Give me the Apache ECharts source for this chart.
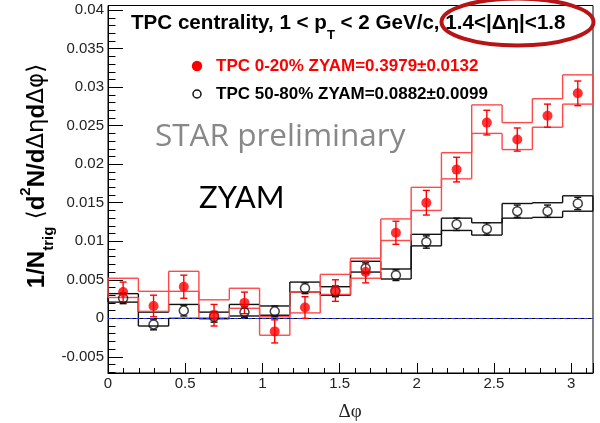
<!DOCTYPE html>
<html>
<head>
<meta charset="utf-8">
<script src="https://cdn.jsdelivr.net/npm/echarts@6/dist/echarts.min.js"></script>
<style>
  html, body { margin: 0; padding: 0; background: #fff; }
  #chart { width: 600px; height: 423px; }
</style>
</head>
<body>
<div id="chart"></div>
<script>
// Δφ bin centres (16 bins over 0..π)
const dphi = [0.098, 0.295, 0.491, 0.687, 0.884, 1.080, 1.276, 1.473,
              1.669, 1.865, 2.062, 2.258, 2.454, 2.651, 2.847, 3.043];

// TPC 0-20% central
const central      = [0.0034, 0.0016, 0.0041, 0.0004, 0.0020, -0.0017, 0.0014, 0.0036,
                      0.0060, 0.0111, 0.0150, 0.0193, 0.0254, 0.0232, 0.0263, 0.0292];
const centralErr   = [0.0013, 0.0014, 0.0015, 0.0014, 0.0014, 0.0015, 0.0014, 0.0014,
                      0.0014, 0.0015, 0.0016, 0.0016, 0.0016, 0.0015, 0.0015, 0.0016];
const centralSysLo = [0.0027, 0.0009, 0.0035, -0.0001, 0.0013, -0.0022, 0.0007, 0.0031,
                      0.0052, 0.0101, 0.0140, 0.0181, 0.0240, 0.0219, 0.0248, 0.0278];
const centralSysHi = [0.0052, 0.0035, 0.0061, 0.0024, 0.0039, 0.0002, 0.0034, 0.0057,
                      0.0078, 0.0129, 0.0170, 0.0215, 0.0277, 0.0254, 0.0285, 0.0316];

// TPC 50-80% peripheral
const periph       = [0.0026, -0.0008, 0.0010, 0.0002, 0.0008, 0.0009, 0.0039, 0.0035,
                      0.0065, 0.0056, 0.0099, 0.0122, 0.0116, 0.0139, 0.0139, 0.0149];
const periphErr    = [0.0007, 0.0007, 0.0007, 0.0007, 0.0007, 0.0007, 0.0007, 0.0007,
                      0.0007, 0.0007, 0.0008, 0.0008, 0.0008, 0.0008, 0.0008, 0.0008];
const periphSysLo  = [0.0021, -0.0010, 0.0000, 0.0000, 0.0003, 0.0004, 0.0034, 0.0030,
                      0.0060, 0.0051, 0.0094, 0.0114, 0.0108, 0.0130, 0.0131, 0.0139];
const periphSysHi  = [0.0032, 0.0008, 0.0018, 0.0008, 0.0018, 0.0016, 0.0047, 0.0041,
                      0.0074, 0.0064, 0.0109, 0.0130, 0.0124, 0.0149, 0.0150, 0.0159];

const legendCentral = 'TPC 0-20% ZYAM=0.3979±0.0132';
const legendPeriph  = 'TPC 50-80% ZYAM=0.0882±0.0099';

const binWidth = Math.PI / 16;
const RED = '#ff0000';
const RED_BOX = '#ff4848';
const BLACK = '#111111';

// Systematic band drawn as two step outlines (upper and lower edge),
// joined to the neighbouring bin by vertical risers.
function bandRenderer(color, loArr, hiArr) {
  return function (params, api) {
    const i = params.dataIndex;
    const x = api.value(0), lo = api.value(1), hi = api.value(2);
    const xl = x - binWidth / 2, xr = x + binWidth / 2;
    const st = { stroke: color, lineWidth: 1.4 };
    const seg = (p, q) => ({ type: 'line', shape: { x1: p[0], y1: p[1], x2: q[0], y2: q[1] }, style: st });
    const kids = [
      seg(api.coord([xl, hi]), api.coord([xr, hi])),
      seg(api.coord([xl, lo]), api.coord([xr, lo]))
    ];
    if (i === 0) {
      kids.push(seg(api.coord([xl, lo]), api.coord([xl, hi])));
    } else {
      kids.push(seg(api.coord([xl, hiArr[i - 1]]), api.coord([xl, hi])));
      kids.push(seg(api.coord([xl, loArr[i - 1]]), api.coord([xl, lo])));
    }
    if (i === loArr.length - 1) {
      kids.push(seg(api.coord([xr, lo]), api.coord([xr, hi])));
    }
    return { type: 'group', children: kids };
  };
}

function errRenderer(color, gap) {
  return function (params, api) {
    const x = api.value(0), y = api.value(1), e = api.value(2);
    const top = api.coord([x, y + e]);
    const mid = api.coord([x, y]);
    const bot = api.coord([x, y - e]);
    const cap = 3.5;
    const st = { stroke: color, lineWidth: 1.4 };
    const kids = [];
    if (mid[1] - gap > top[1]) {
      kids.push({ type: 'line', shape: { x1: mid[0], y1: top[1], x2: mid[0], y2: mid[1] - gap }, style: st });
    }
    if (mid[1] + gap < bot[1]) {
      kids.push({ type: 'line', shape: { x1: mid[0], y1: mid[1] + gap, x2: mid[0], y2: bot[1] }, style: st });
    }
    kids.push({ type: 'line', shape: { x1: mid[0] - cap, y1: top[1], x2: mid[0] + cap, y2: top[1] }, style: st });
    kids.push({ type: 'line', shape: { x1: mid[0] - cap, y1: bot[1], x2: mid[0] + cap, y2: bot[1] }, style: st });
    return { type: 'group', children: kids };
  };
}

const centralBoxes = dphi.map((x, i) => [x, centralSysLo[i], centralSysHi[i]]);
const periphBoxes  = dphi.map((x, i) => [x, periphSysLo[i], periphSysHi[i]]);
const centralErrs  = dphi.map((x, i) => [x, central[i], centralErr[i]]);
const periphErrs   = dphi.map((x, i) => [x, periph[i], periphErr[i]]);
const centralPts   = dphi.map((x, i) => [x, central[i]]);
const periphPts    = dphi.map((x, i) => [x, periph[i]]);

const SANS = 'Liberation Sans, Arial, sans-serif';
const labelFont = { fontFamily: SANS, fontSize: 15, color: '#222' };

const chart = echarts.init(document.getElementById('chart'), null, { renderer: 'canvas' });

chart.setOption({
  animation: false,
  backgroundColor: '#fff',
  grid: {
    left: 108, right: 7, top: 5.5, bottom: 50,
    show: true, borderColor: '#000', borderWidth: 1, backgroundColor: 'transparent'
  },
  xAxis: {
    type: 'value', min: 0, max: Math.PI, interval: 0.5,
    axisLine: { show: true, onZero: false, lineStyle: { color: '#000', width: 1 } },
    axisTick: { show: true, inside: true, length: 10, lineStyle: { color: '#000' } },
    minorTick: { show: true, splitNumber: 5, length: 5, lineStyle: { color: '#000' } },
    splitLine: { show: false },
    axisLabel: Object.assign({ margin: 3, showMaxLabel: false,
      formatter: v => String(Math.round(v * 10) / 10) }, labelFont)
  },
  yAxis: {
    type: 'value', min: -0.0071, max: 0.0406, splitNumber: 10,
    axisLine: { show: true, onZero: false, lineStyle: { color: '#000', width: 1 } },
    axisTick: { show: true, inside: true, length: 15, lineStyle: { color: '#000' } },
    minorTick: { show: true, splitNumber: 5, length: 7.5, lineStyle: { color: '#000' } },
    splitLine: { show: false },
    axisLabel: Object.assign({ margin: 4, showMinLabel: false, showMaxLabel: false,
      formatter: v => String(Math.round(v * 1000) / 1000) }, labelFont)
  },
  series: [
    {
      type: 'custom', name: 'periphSys', renderItem: bandRenderer(BLACK, periphSysLo, periphSysHi),
      data: periphBoxes, z: 2
    },
    {
      type: 'custom', name: 'centralSys', renderItem: bandRenderer(RED_BOX, centralSysLo, centralSysHi),
      data: centralBoxes, z: 3
    },
    {
      type: 'custom', name: 'periphErr', renderItem: errRenderer(BLACK, 4.5),
      data: periphErrs, z: 4
    },
    {
      type: 'custom', name: 'centralErr', renderItem: errRenderer(RED, 0),
      data: centralErrs, z: 5
    },
    {
      type: 'scatter', name: legendPeriph, data: periphPts, z: 6,
      symbol: 'circle', symbolSize: 9,
      itemStyle: { color: 'rgba(0,0,0,0)', borderColor: BLACK, borderWidth: 1.5 },
      markLine: {
        silent: true, symbol: 'none', label: { show: false },
        lineStyle: { color: '#000', type: 'solid', width: 1 },
        data: [{ yAxis: 0 }]
      }
    },
    {
      type: 'scatter', name: legendCentral, data: centralPts, z: 7,
      symbol: 'circle', symbolSize: 10,
      itemStyle: { color: RED },
      markLine: {
        silent: true, symbol: 'none', label: { show: false },
        lineStyle: { color: '#2233ee', type: [4, 3], width: 1 },
        data: [{ yAxis: 0 }]
      }
    }
  ],
  graphic: [
    // header line
    {
      type: 'text', x: 131, y: 23, z: 10,
      style: {
        text: '{b|TPC centrality, 1 < p}{s|T}{b| < 2 GeV/c, 1.4<|Δη|<1.8}',
        verticalAlign: 'middle', align: 'left',
        rich: {
          b: { fontFamily: SANS, fontWeight: 'bold', fontSize: 20.6, lineHeight: 38, verticalAlign: 'middle', fill: '#000' },
          s: { fontFamily: SANS, fontWeight: 'bold', fontSize: 13, lineHeight: 13, verticalAlign: 'bottom', fill: '#000' }
        }
      }
    },
    // highlight ring
    {
      type: 'ellipse', z: 11,
      shape: { cx: 517.5, cy: 22, rx: 76, ry: 23.5 },
      style: { fill: 'none', stroke: '#b81417', lineWidth: 4 }
    },
    // legend entries
    {
      type: 'circle', z: 10, shape: { cx: 197, cy: 66, r: 5.2 },
      style: { fill: RED }
    },
    {
      type: 'text', x: 216, y: 66, z: 10,
      style: { text: legendCentral, fill: RED, font: 'bold 17px "Liberation Sans", Arial, sans-serif', verticalAlign: 'middle' }
    },
    {
      type: 'circle', z: 10, shape: { cx: 197, cy: 94, r: 4 },
      style: { fill: 'none', stroke: BLACK, lineWidth: 1.5 }
    },
    {
      type: 'text', x: 216, y: 94, z: 10,
      style: { text: legendPeriph, fill: '#000', font: 'bold 17px "Liberation Sans", Arial, sans-serif', verticalAlign: 'middle' }
    },
    // overlay labels
    {
      type: 'text', x: 155, y: 137, z: 10,
      style: { text: 'STAR preliminary', fill: '#888888', font: '31.5px "Open Sans", Lato, sans-serif', verticalAlign: 'middle' }
    },
    {
      type: 'text', x: 199, y: 198, z: 10,
      style: { text: 'ZYAM', fill: '#000', font: '31px Lato, "Open Sans", sans-serif', verticalAlign: 'middle' }
    },
    // x axis title
    {
      type: 'text', x: 350, y: 412, z: 10,
      style: { text: 'Δφ', fill: '#222', font: '19px "Liberation Serif", serif', align: 'center', verticalAlign: 'middle' }
    },
    // y axis title
    {
      type: 'text', x: 37, y: 176, z: 10, rotation: Math.PI / 2,
      style: {
        text: '{b|1/N}{s|trig}{g| ⟨}{b|d}{u|2}{b|N/d}{g|Δη}{b|d}{g|Δφ⟩}',
        align: 'center', verticalAlign: 'middle',
        rich: {
          b: { fontFamily: SANS, fontWeight: 'bold', fontSize: 24, lineHeight: 38, verticalAlign: 'middle', fill: '#000' },
          g: { fontFamily: 'DejaVu Sans, sans-serif', fontSize: 23, lineHeight: 38, verticalAlign: 'middle', fill: '#000' },
          s: { fontFamily: SANS, fontWeight: 'bold', fontSize: 15, lineHeight: 15, verticalAlign: 'bottom', fill: '#000' },
          u: { fontFamily: SANS, fontWeight: 'bold', fontSize: 15, lineHeight: 15, verticalAlign: 'top', fill: '#000' }
        }
      }
    }
  ]
});
</script>
</body>
</html>
